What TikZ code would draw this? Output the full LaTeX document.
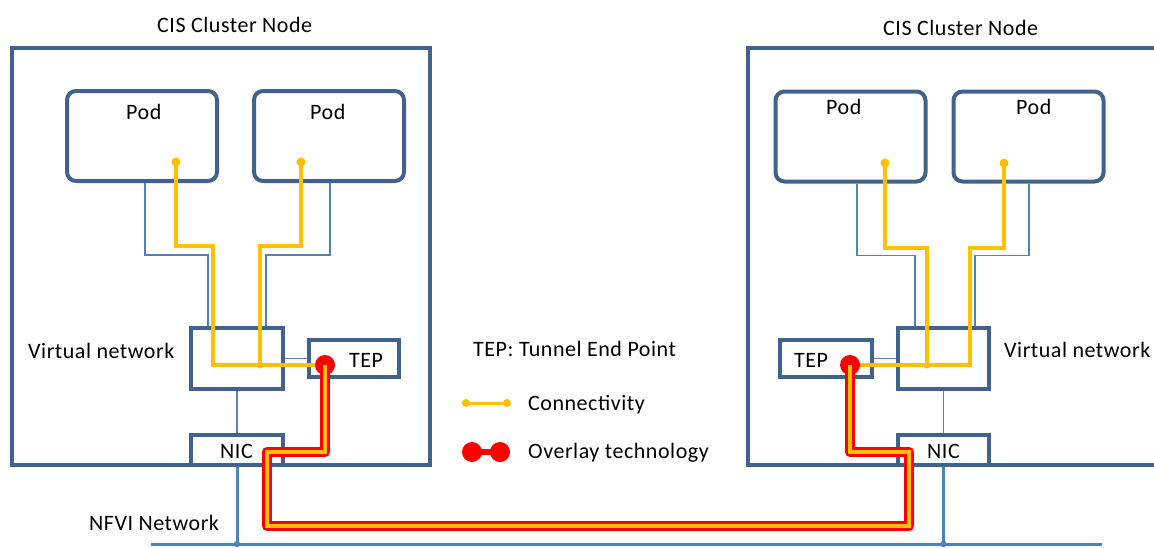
\documentclass[tikz,border=0pt]{standalone}
\usepackage{fontspec}
\setmainfont{Carlito}[LetterSpace=2.4]
\begin{document}
\begin{tikzpicture}[x=1pt,y=-1pt,
  boxc/.style={draw=frame,line width=3.5pt},
  cluster/.style={boxc,rectangle,inner sep=0pt},
  pod/.style={draw=frame,line width=4pt,rectangle,rounded corners=9pt,inner sep=0pt,minimum width=150pt,minimum height=90pt},
  unit/.style={boxc,rectangle,inner sep=0pt,fill=white},
  lbl/.style={anchor=base west,inner sep=0pt,font=\fontsize{22}{26}\selectfont},
  link/.style={draw=linkblue,line width=1.2pt},
  nfvi/.style={draw=linkblue,line width=3pt},
  conn/.style={draw=ayellow,line width=4.5pt,line join=miter},
  ovred/.style={draw=ared,line width=10pt,line join=round},
  ovyel/.style={draw=ayellow,line width=4.5pt,line join=miter}]
\definecolor{frame}{RGB}{65,98,140}
\definecolor{linkblue}{RGB}{79,129,189}
\definecolor{ayellow}{RGB}{255,192,0}
\definecolor{ared}{RGB}{255,0,0}
\useasboundingbox (0,0) rectangle (1154,547);

% ---- cluster nodes ----
\node[cluster,minimum width=418pt,minimum height=417pt] (clL) at (221,256.5) {};
\draw[boxc] (1160,48) -- (748,48) -- (748,465) -- (1160,465);
\node[lbl] (tL) at (157,32) {CIS Cluster Node};
\node[lbl] (tR) at (883,35) {CIS Cluster Node};

% ---- pods ----
\node[pod] (pL1) at (142,136) {};
\node[pod] (pL2) at (329,136) {};
\node[pod] (pR1) at (850.5,136.5) {};
\node[pod] (pR2) at (1028.5,136.5) {};
\node[lbl] (tpL1) at (126,119) {Pod};
\node[lbl] (tpL2) at (310,119) {Pod};
\node[lbl] (tpR1) at (826,114) {Pod};
\node[lbl] (tpR2) at (1016,114) {Pod};

% ---- virtual networks, TEPs, NICs ----
\node[unit,minimum width=92pt,minimum height=61pt] (vnL) at (237,358.5) {};
\node[unit,minimum width=90pt,minimum height=37pt] (tepL) at (354,358.5) {};
\node[unit,minimum width=92pt,minimum height=30pt] (nicL) at (237,450) {};
\node[unit,minimum width=91pt,minimum height=61pt] (vnR) at (943.5,358.5) {};
\node[unit,minimum width=92pt,minimum height=37pt] (tepR) at (826,358.5) {};
\node[unit,minimum width=91pt,minimum height=30pt] (nicR) at (943.5,450) {};
\node[lbl] (tvnL) at (28,358) {Virtual network};
\node[lbl] (tvnR) at (1004,357) {Virtual network};
\node[lbl] (ttepL) at (349,367) {TEP};
\node[lbl] (ttepR) at (794,367) {TEP};
\node[lbl] (tnicL) at (220,458) {NIC};
\node[lbl] (tnicR) at (927,458) {NIC};

% ---- thin internal links ----
\draw[link] ([xshift=3pt]pL1.south) -- ++(0,72) -| ([xshift=-29pt]vnL.north);
\draw[link] ([xshift=1pt]pL2.south) -- ++(0,72) -| ([xshift=29pt]vnL.north);
\draw[link] (vnL.east) -- (tepL.west);
\draw[link] (vnL.south) -- (nicL.north);
\draw[link] ([xshift=6.5pt]pR1.south) -- ++(0,72) -| ([xshift=-28.5pt]vnR.north);
\draw[link] ([xshift=0.5pt]pR2.south) -- ++(0,72) -| ([xshift=31.5pt]vnR.north);
\draw[link] (tepR.east) -- (vnR.west);
\draw[link] (vnR.south) -- (nicR.north);

% ---- NFVI network ----
\coordinate (busW) at (151,544);
\coordinate (busE) at (1102,544);
\draw[nfvi] (busW) -- (busE);
\draw[nfvi] (nicL.south) -- (nicL.south |- busW) coordinate (jbL);
\draw[nfvi] (nicR.south) -- (nicR.south |- busW) coordinate (jbR);
\fill[linkblue] (jbL) circle (3.2pt) (jbR) circle (3.2pt);
\node[lbl] (tnfvi) at (89,530) {NFVI Network};

% ---- connectivity ----
\coordinate (yL1) at (176,162);
\coordinate (yL2) at (301,162);
\coordinate (yR1) at (885,163);
\coordinate (yR2) at (1004,163);
\coordinate (dL) at (325,365);
\coordinate (dR) at (850,365);
\coordinate (jL) at (260,365);
\coordinate (jR) at (927,365);
\draw[conn] (yL1) -- (176,246) -- (213,246) -- (213,365) -- (dL);
\draw[conn] (yL2) -- (301,246) -- (260,246) -- (jL);
\draw[conn] (yR1) -- (885,248) -- (927,248) -- (jR);
\draw[conn] (yR2) -- (1004,248) -- (970,248) -- (970,365) -- (dR);
\fill[ayellow] (yL1) circle (4.5pt) (yL2) circle (4.5pt) (yR1) circle (4.5pt) (yR2) circle (4.5pt)
  (jL) circle (3.5pt) (jR) circle (3.5pt);

% ---- overlay tunnel between the TEPs ----
\fill[ared] (dL) circle (10pt) (dR) circle (10pt);
\draw[ovred] (dL) -- (325,452) -- (267,452) -- (267,526) -- (909,526) -- (909,452) -- (850,452) -- (dR);
\draw[ovyel] (dL) -- (325,452) -- (267,452) -- (267,526) -- (909,526) -- (909,452) -- (850,452) -- (dR);

% ---- legend ----
\node[lbl] (lg0) at (473,356) {TEP: Tunnel End Point};
\coordinate (c1) at (466,403);
\coordinate (c2) at (507,403);
\draw[draw=ayellow,line width=3pt] (c1) -- (c2);
\fill[ayellow] (c1) circle (4pt) (c2) circle (4pt);
\node[lbl] (lg1) at (528,410) {Connectivity};
\coordinate (o1) at (472,452);
\coordinate (o2) at (500,452);
\draw[draw=ared,line width=6pt] (o1) -- (o2);
\fill[ared] (o1) circle (10pt) (o2) circle (10pt);
\node[lbl] (lg2) at (528,458) {Overlay technology};
\end{tikzpicture}
\end{document}
